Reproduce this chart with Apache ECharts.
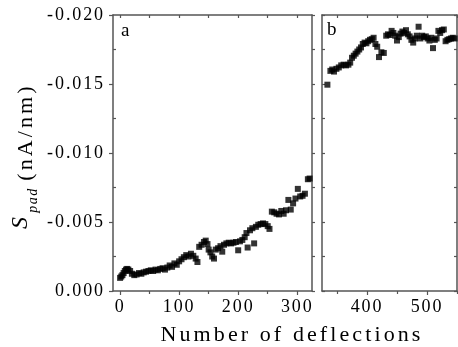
<!DOCTYPE html>
<html><head><meta charset="utf-8">
<script src="https://cdn.jsdelivr.net/npm/echarts@6/dist/echarts.min.js"></script>
<style>
html,body{margin:0;padding:0;background:#fff;}
#c{width:458px;height:347px;}
</style></head><body><div id="c"></div>
<script>
// Panel a: number of deflections and S_pad (nA/nm)
const xA=[0,2,4,6,8,10,12,14,17,20,24,28,32,36,40,44,48,52,56,60,64,68,72,76,80,84,88,92,96,100,104,108,112,116,120,124,128,131,134,138,142,145,148,150,153,156,159,162,166,170,173,176,180,184,188,192,196,200,203,207,211,214,216,220,224,227,230,234,238,242,246,250,253,257,261,265,269,273,277,281,285,289,293,297,301,305,309,313,318,321];
const yA=[-0.00095,-0.00105,-0.00115,-0.00130,-0.00145,-0.00155,-0.00160,-0.00155,-0.00145,-0.00125,-0.00115,-0.00120,-0.00130,-0.00125,-0.00135,-0.00140,-0.00145,-0.00150,-0.00145,-0.00155,-0.00150,-0.00160,-0.00165,-0.00155,-0.00170,-0.00185,-0.00175,-0.00200,-0.00190,-0.00215,-0.00230,-0.00245,-0.00260,-0.00250,-0.00270,-0.00255,-0.00235,-0.00210,-0.00320,-0.00335,-0.00355,-0.00365,-0.00340,-0.00300,-0.00280,-0.00250,-0.00235,-0.00300,-0.00310,-0.00325,-0.00285,-0.00335,-0.00345,-0.00350,-0.00345,-0.00350,-0.00355,-0.00295,-0.00360,-0.00370,-0.00390,-0.00420,-0.00315,-0.00440,-0.00455,-0.00345,-0.00465,-0.00480,-0.00485,-0.00490,-0.00485,-0.00470,-0.00450,-0.00575,-0.00570,-0.00560,-0.00555,-0.00580,-0.00560,-0.00585,-0.00660,-0.00590,-0.00635,-0.00670,-0.00740,-0.00685,-0.00690,-0.00705,-0.00810,-0.00815];
// Panel b
const xB=[334,339,342,345,349,353,357,361,365,369,372,375,378,381,384,387,390,393,396,399,402,405,408,411,414,417,420,424,428,432,435,438,441,444,447,450,453,456,459,462,465,468,471,474,477,480,483,486,489,492,495,498,501,504,507,510,513,516,519,522,525,528,531,534,537,540,543,546];
const yB=[-0.01495,-0.01595,-0.01605,-0.01590,-0.01610,-0.01620,-0.01635,-0.01640,-0.01635,-0.01640,-0.01655,-0.01690,-0.01705,-0.01720,-0.01735,-0.01750,-0.01765,-0.01790,-0.01800,-0.01795,-0.01810,-0.01820,-0.01825,-0.01835,-0.01790,-0.01770,-0.01695,-0.01730,-0.01725,-0.01850,-0.01860,-0.01855,-0.01885,-0.01870,-0.01850,-0.01815,-0.01840,-0.01865,-0.01880,-0.01870,-0.01890,-0.01860,-0.01845,-0.01820,-0.01800,-0.01830,-0.01850,-0.01915,-0.01830,-0.01850,-0.01840,-0.01845,-0.01830,-0.01815,-0.01835,-0.01760,-0.01820,-0.01830,-0.01885,-0.01870,-0.01890,-0.01895,-0.01810,-0.01820,-0.01825,-0.01830,-0.01835,-0.01830];
const xTicksA=[0,100,200,300];
const xMinorA=[50,150,250];
const xTopA=[0,50,100,150,200,250,300];
const xTicksB=[400,500];
const xMinorB=[350,450,550];
const xTopB=[350,400,450,500,550];
const yTicks=[-0.020,-0.015,-0.010,-0.005,0];
const yMinor=[-0.0175,-0.0125,-0.0075,-0.0025];
const yAll=[-0.020,-0.0175,-0.015,-0.0125,-0.010,-0.0075,-0.005,-0.0025,0];

// widen text tracking like the original typesetting
(function(){
  var P=CanvasRenderingContext2D.prototype;
  var TRACK={14:1.5,18:1.9,22:3.1};
  function ls(ctx){var m=/(\d+(?:\.\d+)?)px/.exec(ctx.font||'');if(m&&'letterSpacing' in ctx){var v=TRACK[Math.round(parseFloat(m[1]))]||0;ctx.letterSpacing=v+'px';}}
  var f=P.fillText,s=P.strokeText,mt=P.measureText;
  P.fillText=function(){ls(this);return f.apply(this,arguments);};
  P.strokeText=function(){ls(this);return s.apply(this,arguments);};
  P.measureText=function(){ls(this);return mt.apply(this,arguments);};
})();

const FONT="Liberation Serif";
const AX='#555';
function lineCfg(show){return {show:show,onZero:false,lineStyle:{color:AX,width:1.5}};}
function xAx(grid,pos,min,max,ticks,len,inside,labels,line){
  return {type:'value',gridIndex:grid,position:pos,min:min,max:max,
    axisLine:lineCfg(line),
    axisTick:{show:true,inside:inside,length:len,customValues:ticks,lineStyle:{color:AX,width:1.2}},
    axisLabel:labels?{show:true,customValues:ticks,margin:6,color:'#000',fontSize:18,fontFamily:FONT}:{show:false},
    splitLine:{show:false}};
}
function yAx(grid,pos,ticks,len,inside,labels,line){
  return {type:'value',gridIndex:grid,position:pos,min:-0.02,max:0,inverse:true,
    axisLine:lineCfg(line),
    axisTick:{show:true,inside:inside,length:len,customValues:ticks,lineStyle:{color:AX,width:1.2}},
    axisLabel:labels?{show:true,customValues:ticks,margin:8,color:'#000',fontSize:18,fontFamily:FONT,formatter:function(v){return Number(v).toFixed(3);}}:{show:false},
    splitLine:{show:false}};
}
const chart=echarts.init(document.getElementById('c'),null,{renderer:'canvas'});
chart.setOption({
  animation:false,
  backgroundColor:'#fff',
  grid:[{left:113,top:15,width:199,height:276},{left:322,top:15,width:135,height:276}],
  xAxis:[
    xAx(0,'bottom',-12,325,xTicksA,4,false,true,true),
    xAx(0,'bottom',-12,325,xMinorA,3,false,false,false),
    xAx(0,'top',-12,325,xTopA,3,true,false,true),
    xAx(1,'bottom',325,550,xTicksB,4,false,true,true),
    xAx(1,'bottom',325,550,xMinorB,3,false,false,false),
    xAx(1,'top',325,550,xTopB,3,true,false,true)
  ],
  yAxis:[
    yAx(0,'left',yTicks,4,false,true,true),
    yAx(0,'left',yMinor,3,true,false,false),
    yAx(0,'right',yAll,3,false,false,true),
    yAx(1,'left',yAll,3,true,false,true),
    yAx(1,'right',yAll,3,true,false,true)
  ],
  series:[
    {type:'scatter',xAxisIndex:0,yAxisIndex:0,symbol:'rect',symbolSize:6,itemStyle:{color:'#000'},
     data:xA.map(function(x,i){return [x,yA[i]];})},
    {type:'scatter',xAxisIndex:3,yAxisIndex:3,symbol:'rect',symbolSize:6,itemStyle:{color:'#000'},
     data:xB.map(function(x,i){return [x,yB[i]];})}
  ],
  graphic:[
    {type:'text',x:121,y:31,style:{text:'a',fontSize:19,fontFamily:FONT,fill:'#000',align:'left',verticalAlign:'middle'}},
    {type:'text',x:327,y:30,style:{text:'b',fontSize:19,fontFamily:FONT,fill:'#000',align:'left',verticalAlign:'middle'}},
    {type:'text',x:292,y:335,style:{text:'Number of deflections',fontSize:22,fontFamily:FONT,fill:'#000',align:'center',verticalAlign:'middle'}},
    {type:'text',x:21,y:223,rotation:Math.PI/2,style:{text:'S',fontSize:24,fontStyle:'italic',fontFamily:FONT,fill:'#000',align:'center',verticalAlign:'middle'}},
    {type:'text',x:33,y:200,rotation:Math.PI/2,style:{text:'pad',fontSize:14,fontStyle:'italic',fontFamily:FONT,fill:'#000',align:'center',verticalAlign:'middle'}},
    {type:'text',x:26,y:132,rotation:Math.PI/2,style:{text:'(nA/nm)',fontSize:22,fontFamily:FONT,fill:'#000',align:'center',verticalAlign:'middle'}}
  ]
});
</script></body></html>
